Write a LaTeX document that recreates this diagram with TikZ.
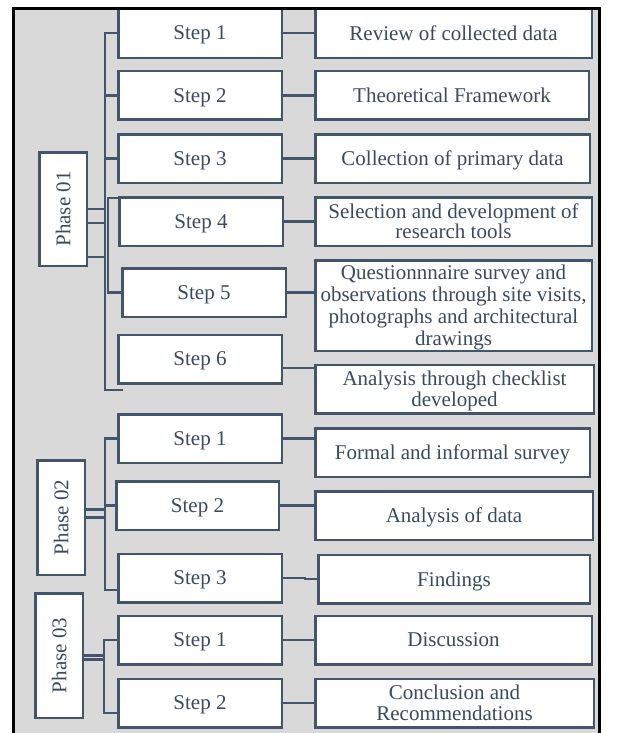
\documentclass[tikz,border=0pt]{standalone}
\usepackage{fontspec}
\setmainfont{Liberation Serif}
\definecolor{linec}{HTML}{44546A}
\definecolor{textc}{HTML}{3B4A5E}
\definecolor{bgc}{HTML}{D9D9D9}

\begin{document}
\begin{tikzpicture}[x=1pt, y=-1pt,
  stepbox/.style={draw=linec, fill=white, line width=2.5pt, inner sep=0pt,
                  minimum width=163.5pt, minimum height=48.5pt, text=textc,
                  text depth=0pt, font=\fontsize{21}{22}\selectfont},
  taskbox/.style={stepbox, minimum width=276.5pt, align=center},
  phasebox/.style={stepbox, minimum height=47.5pt, rotate=90},
  link/.style={draw=linec, line width=2.2pt}]

\useasboundingbox (0,0) rectangle (617,733);
\fill[bgc] (13.5,8.5) rectangle (599.5,745);

% phases
\node[phasebox, minimum width=113.5pt](p1) at (63,209) {Phase 01};
\node[phasebox, minimum width=114.5pt](p2) at (61,517.5) {Phase 02};
\node[phasebox, minimum width=124.5pt](p3) at (59,655.5) {Phase 03};

% steps
\node[stepbox, minimum height=50pt](s11) at (200,33) {Step 1};
\node[stepbox](s12) at (200,95.5) {Step 2};
\node[stepbox](s13) at (200,158.5) {Step 3};
\node[stepbox](s14) at (201,221.5) {Step 4};
\node[stepbox](s15) at (204,292.5) {Step 5};
\node[stepbox](s16) at (200,359) {Step 6};
\node[stepbox](s21) at (200,438.5) {Step 1};
\node[stepbox, minimum width=162.5pt](s22) at (197.5,505.5) {Step 2};
\node[stepbox](s23) at (200,578) {Step 3};
\node[stepbox](s31) at (200,640) {Step 1};
\node[stepbox](s32) at (200,703) {Step 2};

% tasks
\node[taskbox, minimum height=50pt](r11) at (453.5,33) {Review of collected data};
\node[taskbox, minimum width=273.5pt](r12) at (452,95.5) {Theoretical Framework};
\node[taskbox, minimum width=274.5pt](r13) at (452.5,158.5) {Collection of primary data};
\node[taskbox, font=\fontsize{21}{18.5}\selectfont](r14) at (453.5,221.5)
     {Selection and development of\\research tools};
\node[taskbox, minimum height=90.5pt](r15) at (453.5,305.5)
     {Questionnnaire survey and\\observations through site visits,\\photographs and architectural\\drawings};
\node[taskbox, minimum width=278.5pt, font=\fontsize{21}{21}\selectfont](r16) at (454.5,389)
     {Analysis through checklist\\developed};
\node[taskbox, minimum width=274.5pt](r21) at (452.5,452.5) {Formal and informal survey};
\node[taskbox, minimum width=277.5pt](r22) at (454,515.5) {Analysis of data};
\node[taskbox, minimum width=271.5pt](r23) at (454,579) {Findings};
\node[taskbox](r31) at (453.5,640) {Discussion};
\node[taskbox, minimum width=278.5pt, font=\fontsize{21}{21}\selectfont](r32) at (454.5,703)
     {Conclusion and\\Recommendations};

% trunk ends
\coordinate (t1) at (105,390);
\coordinate (f1) at (123,390);
\coordinate (t1b) at (108,250);
\coordinate (t2) at (105,590);
\coordinate (t3) at (104,713);

% phase 01 tree
\foreach \dy in {0,14,48}
  \draw[link] (p1.south) ++(0,\dy) -- ++(18,0);
\draw[link] (s11.west) -| (t1) -- (f1);
\draw[link] (s12.west) -| (t1);
\draw[link] (s13.west) -- (s13.west -| t1);
\draw[link] ([yshift=-2pt]s14.north west) -| (t1b) |- (s15.west);

% phase 02 tree
\foreach \dy in {-8,0}
  \draw[link] (p2.south) ++(0,\dy) -- ++(19,0);
\draw[link] (s21.west) -| (t2) -- (t2 -| s23.west);
\draw[link] (s22.west) -- (s22.west -| t2);

% phase 03 tree
\foreach \dy in {0,4}
  \draw[link] (p3.south) ++(0,\dy) -- ++(20,0);
\draw[link] (s31.west) -| (t3) -- (t3 -| s32.west);

% steps to tasks
\foreach \a/\b in {s11/r11, s12/r12, s13/r13, s14/r14, s15/r15,
                   s21/r21, s22/r22, s31/r31, s32/r32}
  \draw[link] (\a.east) -- (\a.east -| \b.west);
\draw[link] ([yshift=-9pt]s16.east) -- ([yshift=-9pt]s16.east -| r16.west);
\draw[link] (s23.east) -- ++(22,0) |- (r23.west);

\draw[black, line width=3pt] (13.5,8.5) rectangle (599.5,745);

\end{tikzpicture}
\end{document}
